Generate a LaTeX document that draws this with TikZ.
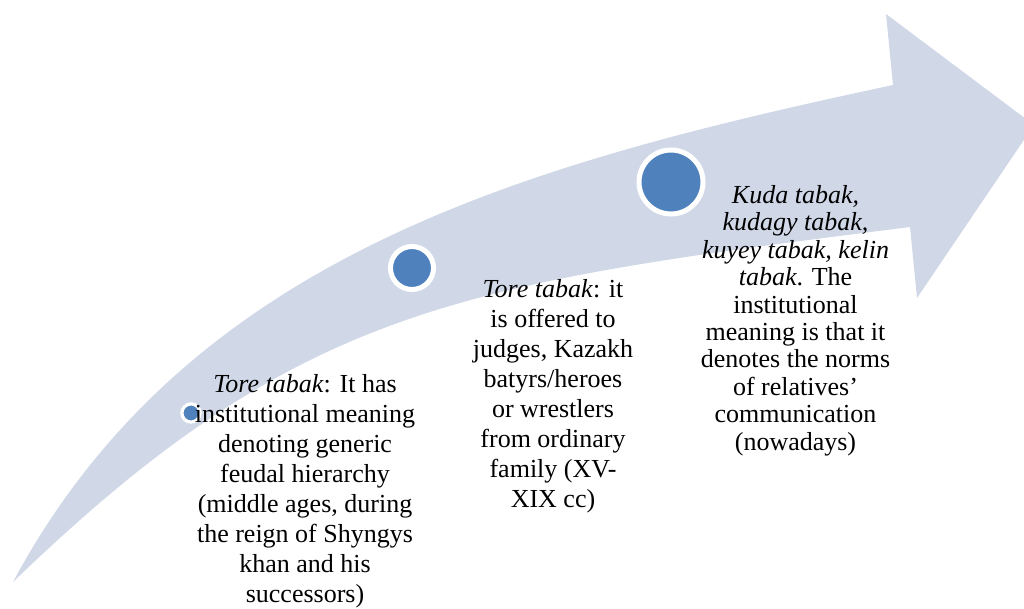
\documentclass[tikz,border=0pt]{standalone}
\usepackage{fontspec}
\setmainfont{Liberation Serif}
\definecolor{bandcol}{HTML}{D0D8E8}
\definecolor{dotcol}{HTML}{4F81BD}
\begin{document}
\begin{tikzpicture}[x=1pt,y=-1pt,
  txt/.style={anchor=north, inner sep=0pt, align=center, font=\fontsize{26}{30}\selectfont},
  txtc/.style={anchor=north, inner sep=0pt, align=center, font=\fontsize{26}{27.4}\selectfont},
  dotnode/.style={circle, fill=dotcol, draw=white, inner sep=0pt}]
\useasboundingbox (0,0) rectangle (1024,609);
\begin{scope}
\clip (0,0) rectangle (1024,609);
\fill[bandcol] (13,582) .. controls (189,254) and (528,163) .. (893,85)
  -- (886,14) -- (1034,125) -- (917,298) -- (910,227)
  .. controls (460,284) and (300,305) .. (13,582) -- cycle;
\end{scope}
\node[dotnode, line width=3.2pt, minimum size=18.2pt] (c1) at (191,413) {};
\node[dotnode, line width=5pt, minimum size=43pt] (c2) at (412,268) {};
\node[dotnode, line width=5pt, minimum size=64pt] (c3) at (671,182) {};
\node[txt] (t1) at (305,372.7) {\rule{0pt}{20pt}\textit{Tore tabak}: It has\\institutional meaning\\denoting generic\\feudal hierarchy\\(middle ages, during\\the reign of Shyngys\\khan and his\\successors)};
\node[txt] (t2) at (553,277) {\rule{0pt}{20pt}\textit{Tore tabak}: it\\is offered to\\judges, Kazakh\\batyrs/heroes\\or wrestlers\\from ordinary\\family (XV-\\XIX cc)};
\node[txtc] (t3) at (795.5,183.3) {\rule{0pt}{20pt}\textit{Kuda tabak,}\\\textit{kudagy tabak,}\\\textit{kuyey tabak, kelin}\\\textit{tabak}. The\\institutional\\meaning is that it\\denotes the norms\\of relatives’\\communication\\(nowadays)};
\end{tikzpicture}
\end{document}
